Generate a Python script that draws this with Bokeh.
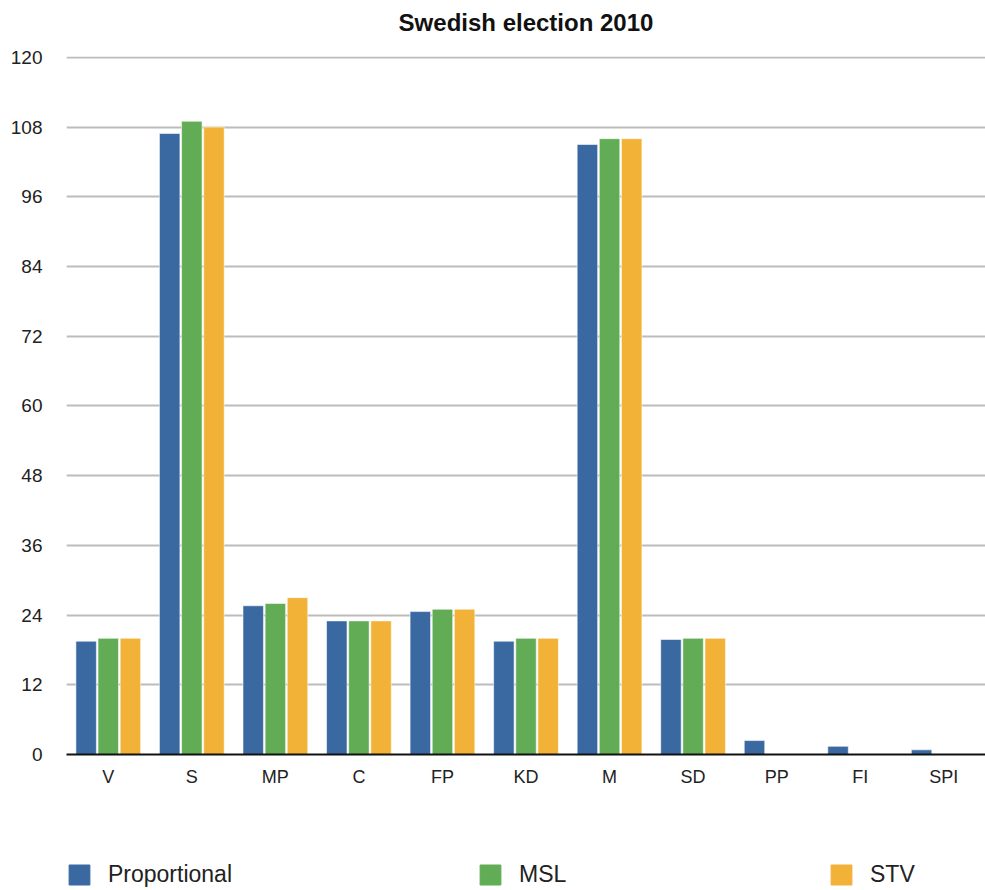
from bokeh.plotting import figure
from bokeh.models import ColumnDataSource, FactorRange, FixedTicker, Legend, LegendItem, Range1d
from bokeh.layouts import column
from bokeh.transform import dodge
from bokeh.embed import file_html
from bokeh.resources import INLINE

parties = ["V", "S", "MP", "C", "FP", "KD", "M", "SD", "PP", "FI", "SPI"]
proportional = [19.5, 106.9, 25.6, 23.0, 24.6, 19.5, 105.0, 19.8, 2.4, 1.4, 0.8]
msl = [20, 109, 26, 23, 25, 20, 106, 20, 0, 0, 0]
stv = [20, 108, 27, 23, 25, 20, 106, 20, 0, 0, 0]
series_names = ["Proportional", "MSL", "STV"]
y_ticks = list(range(0, 121, 12))
title_text = "Swedish election 2010"

colors = ["#3a69a2", "#62ac55", "#f2b137"]
FONT = "Liberation Sans"

src = ColumnDataSource(dict(party=parties, Proportional=proportional, MSL=msl, STV=stv))
xr = FactorRange(factors=parties, range_padding=0)


def bare(fig):
    fig.outline_line_color = None
    fig.xgrid.grid_line_color = None
    fig.ygrid.grid_line_color = None
    fig.background_fill_color = "white"
    fig.border_fill_color = "white"


# title strip
tf = figure(width=985, height=46, x_range=xr, y_range=Range1d(1000, 1001),
            output_backend="svg", toolbar_location=None, x_axis_type=None, y_axis_type=None,
            min_border=0, min_border_left=0, min_border_right=0, min_border_top=35,
            min_border_bottom=0, title=title_text)
bare(tf)
tf.title.align = "center"
tf.title.vertical_align = "bottom"
tf.title.standoff = 0
tf.title.text_font = FONT
tf.title.text_font_size = "24px"
tf.title.text_font_style = "bold"
tf.title.text_color = "#111111"

# main chart
p = figure(width=985, height=794, x_range=xr,
           y_range=Range1d(0, 120.15), output_backend="svg", toolbar_location=None,
           min_border_left=66, min_border_right=0, min_border_top=10, min_border_bottom=86)
p.outline_line_color = None
p.background_fill_color = "white"
p.border_fill_color = "white"

offsets = [-0.265, 0.0, 0.265]
for name, col, off in zip(series_names, colors, offsets):
    p.vbar(x=dodge("party", off, range=xr), top=name, width=0.245, source=src,
           fill_color=col, line_color="white", line_alpha=0.55, line_width=1)

p.xgrid.grid_line_color = None
p.ygrid.grid_line_color = "#bcbcbc"
p.ygrid.grid_line_width = 2
p.yaxis.ticker = FixedTicker(ticks=y_ticks)

p.yaxis.axis_line_color = None
p.yaxis.major_tick_line_color = None
p.yaxis.minor_tick_line_color = None
p.yaxis.major_tick_out = 0
p.yaxis.major_label_standoff = 24
p.yaxis.major_label_text_font = FONT
p.yaxis.major_label_text_font_size = "19px"
p.yaxis.major_label_text_color = "#222222"

p.xaxis.axis_line_color = "#111111"
p.xaxis.axis_line_width = 2
p.xaxis.major_tick_line_color = None
p.xaxis.major_tick_out = 0
p.xaxis.major_label_standoff = 12
p.xaxis.major_label_text_font = FONT
p.xaxis.major_label_text_font_size = "18px"
p.xaxis.major_label_text_color = "#222222"

# legend strip (its bars lie outside its visible y-range; only the legend shows)
lf = figure(width=985, height=50, x_range=xr, y_range=Range1d(1000, 1001),
            output_backend="svg", toolbar_location=None, x_axis_type=None, y_axis_type=None,
            min_border=0, min_border_left=0, min_border_right=0, min_border_top=0, min_border_bottom=0)
bare(lf)
legend_x = [0, 411, 762]
for name, col, off, lx in zip(series_names, colors, offsets, legend_x):
    r = lf.vbar(x=dodge("party", off, range=xr), top=name, width=0.245, source=src,
                fill_color=col, line_color=col)
    lg = Legend(items=[LegendItem(label=name, renderers=[r], index=0)], location=(lx, 2),
                glyph_width=26, glyph_height=25, label_standoff=16, padding=0, margin=0,
                border_line_color=None, background_fill_alpha=0,
                label_text_font=FONT, label_text_font_size="23px", label_text_color="#222222")
    lf.add_layout(lg, "center")

layout = column(tf, p, lf, spacing=0)
open("out.html", "w").write(file_html(layout, INLINE))
